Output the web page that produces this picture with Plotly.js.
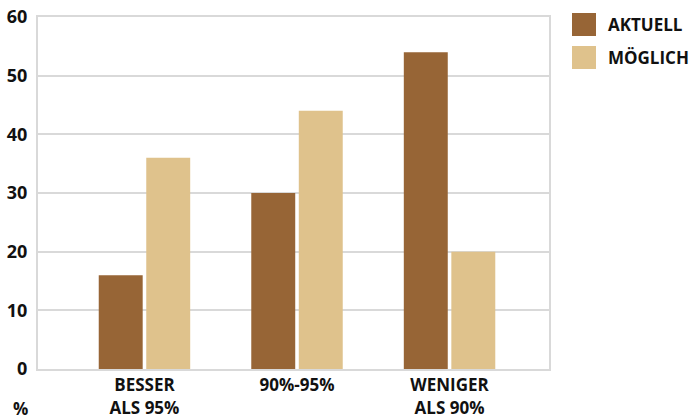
<!DOCTYPE html>
<html><head><meta charset="utf-8">
<script src="https://cdn.plot.ly/plotly-3.0.1.min.js"></script>
<style>html,body{margin:0;padding:0;background:#fff}</style>
</head><body><div id="chart" style="width:696px;height:419px"></div>
<script>
const categories = ["BESSER<br>ALS 95%", "90%-95%", "WENIGER<br>ALS 90%"];
const seriesNames = ["AKTUELL", "MÖGLICH"];
const aktuell = [16, 30, 54];
const moeglich = [36, 44, 20];
const colors = ["#976536", "#DFC28C"];
const yTicks = [0, 10, 20, 30, 40, 50, 60];

const F = {family: "Open Sans, sans-serif", size: 17, color: "#111", weight: 700};
const FY = {family: "Open Sans, sans-serif", size: 18, color: "#111", weight: 700};
const grid = "#D9D9D9";

const traces = [aktuell, moeglich].map((vals, i) => ({
  type: "bar", x: [0, 1, 2], y: vals, name: seriesNames[i],
  marker: {color: colors[i]}, showlegend: false, hoverinfo: "skip"
}));

const shapes = [], annotations = [];
seriesNames.forEach((n, i) => {
  const top = 13 + i * 33;
  shapes.push({type: "rect", xref: "paper", yref: "paper",
    x0: (572 - 38) / 511, x1: (596 - 38) / 511,
    y0: (369 - top) / 352, y1: (369 - top - 23) / 352,
    fillcolor: colors[i], line: {width: 0}});
  annotations.push({xref: "paper", yref: "paper", x: (606 - 38) / 511, y: (369 - top - 11.5) / 352,
    xanchor: "left", yanchor: "middle", text: n, showarrow: false, font: F});
});
annotations.push({xref: "paper", yref: "paper", x: (20 - 38) / 511, y: (369 - 408) / 352,
  xanchor: "center", yanchor: "middle", text: "%", showarrow: false, font: F});

Plotly.newPlot("chart", traces, {
  width: 696, height: 419,
  margin: {l: 38, r: 147, t: 17, b: 50},
  paper_bgcolor: "#fff", plot_bgcolor: "#fff",
  barmode: "group", bargap: 0.377, bargroupgap: 0.075,
  xaxis: {range: [-0.698, 2.652], tickvals: [0, 1, 2], ticktext: categories,
    tickfont: F, showgrid: false, zeroline: false, ticks: "",
    showline: true, linecolor: grid, linewidth: 2, mirror: true, fixedrange: true},
  yaxis: {range: [0, 60], tickvals: yTicks, tickfont: FY, ticks: "", ticklabelstandoff: 5,
    showgrid: true, gridcolor: grid, gridwidth: 2, zeroline: false,
    showline: true, linecolor: grid, linewidth: 2, mirror: true, fixedrange: true},
  shapes: shapes, annotations: annotations
}, {displayModeBar: false, staticPlot: true});
</script></body></html>
